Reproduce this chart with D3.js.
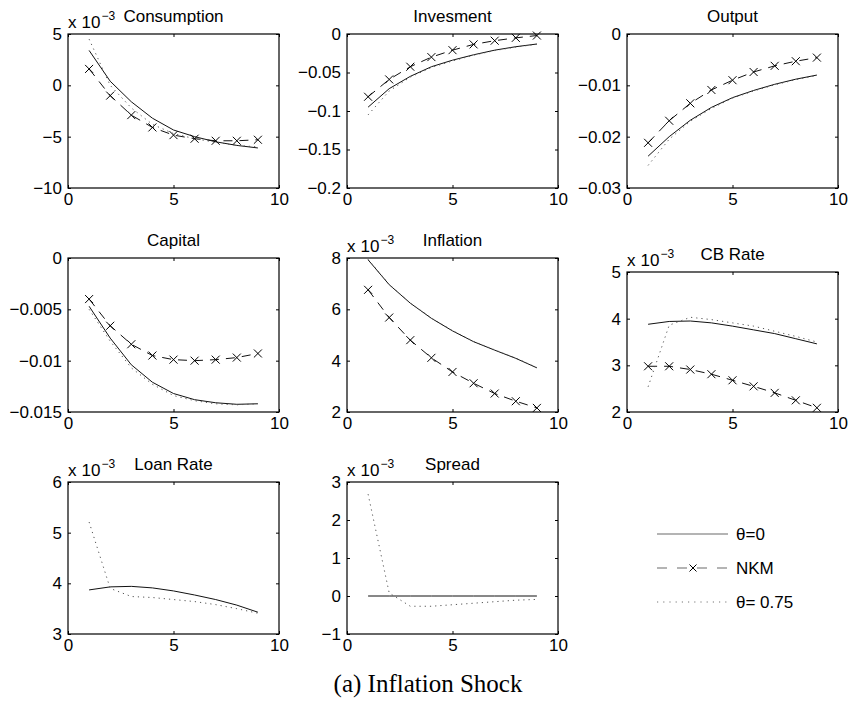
<!DOCTYPE html>
<html>
<head>
<meta charset="utf-8">
<script src="https://cdn.jsdelivr.net/npm/d3@7/dist/d3.min.js"></script>
<style>
  html, body { margin: 0; padding: 0; background: #fff; }
  svg { display: block; }
  text { font-family: "Liberation Sans", Arial, Helvetica, sans-serif; fill: #000; }
</style>
</head>
<body>
<svg id="chart" width="850" height="704"></svg>
<script>
// ---------------- DATA ----------------
const periods = [1, 2, 3, 4, 5, 6, 7, 8, 9];
const xTicks = [0, 5, 10];
const seriesNames = ["θ=0", "NKM", "θ= 0.75"];
const caption = "(a) Inflation Shock";

// Consumption (x 10^-3)
const consumptionTheta0 = [3.4, 0.4, -1.6, -3.2, -4.35, -5.0, -5.5, -5.85, -6.1];
const consumptionNKM    = [1.6, -1.0, -2.9, -4.1, -4.85, -5.2, -5.4, -5.4, -5.3];
const consumptionTheta75 = [4.5, 0.0, -2.2, -3.8, -4.7, -5.2, -5.55, -5.85, -6.0];
const consumptionTicks = [5, 0, -5, -10];

// Investment
const investTheta0 = [-0.095, -0.071, -0.055, -0.0425, -0.034, -0.027, -0.021, -0.0165, -0.013];
const investNKM    = [-0.0815, -0.059, -0.0425, -0.030, -0.021, -0.0135, -0.0087, -0.005, -0.002];
const investTheta75 = [-0.105, -0.074, -0.056, -0.0435, -0.035, -0.0275, -0.0215, -0.017, -0.0133];
const investTicks = [0, -0.05, -0.1, -0.15, -0.2];

// Output
const outputTheta0 = [-0.0238, -0.0200, -0.0168, -0.0143, -0.0124, -0.0110, -0.0098, -0.0088, -0.0080];
const outputNKM    = [-0.0212, -0.0169, -0.0135, -0.0109, -0.0090, -0.0074, -0.0062, -0.0053, -0.0046];
const outputTheta75 = [-0.0256, -0.0205, -0.0170, -0.0145, -0.0125, -0.0111, -0.0099, -0.0089, -0.0081];
const outputTicks = [0, -0.01, -0.02, -0.03];

// Capital
const capitalTheta0 = [-0.0047, -0.0078, -0.0104, -0.0121, -0.0132, -0.0138, -0.0141, -0.01425, -0.0142];
const capitalNKM    = [-0.0040, -0.0066, -0.0084, -0.0095, -0.0099, -0.0100, -0.0099, -0.0097, -0.0093];
const capitalTheta75 = [-0.0050, -0.0081, -0.0107, -0.0123, -0.0134, -0.0139, -0.0142, -0.0143, -0.0142];
const capitalTicks = [0, -0.005, -0.01, -0.015];

// Inflation (x 10^-3)
const inflationTheta0 = [7.93, 6.96, 6.24, 5.65, 5.16, 4.74, 4.41, 4.09, 3.72];
const inflationNKM    = [6.76, 5.68, 4.80, 4.11, 3.56, 3.12, 2.72, 2.42, 2.16];
const inflationTheta75 = [7.95, 6.97, 6.25, 5.66, 5.17, 4.75, 4.42, 4.10, 3.73];
const inflationTicks = [8, 6, 4, 2];

// CB Rate (x 10^-3)
const cbTheta0 = [3.88, 3.94, 3.95, 3.91, 3.84, 3.76, 3.68, 3.57, 3.46];
const cbNKM    = [2.98, 2.98, 2.91, 2.81, 2.68, 2.55, 2.41, 2.25, 2.09];
const cbTheta75 = [2.54, 3.86, 4.03, 3.98, 3.91, 3.84, 3.73, 3.62, 3.50];
const cbTicks = [5, 4, 3, 2];

// Loan Rate (x 10^-3)
const loanTheta0 = [3.87, 3.93, 3.94, 3.91, 3.85, 3.77, 3.68, 3.57, 3.43];
const loanTheta75 = [5.21, 3.90, 3.74, 3.72, 3.68, 3.64, 3.58, 3.50, 3.41];
const loanTicks = [6, 5, 4, 3];

// Spread (x 10^-3)
const spreadTheta0 = [0, 0, 0, 0, 0, 0, 0, 0, 0];
const spreadTheta75 = [2.68, 0.08, -0.27, -0.27, -0.23, -0.19, -0.15, -0.11, -0.09];
const spreadTicks = [3, 2, 1, 0, -1];

// ---------------- PANELS (built from the arrays) ----------------
const panels = [
  { title: "Consumption", exp: true,  ticks: consumptionTicks, s: [consumptionTheta0, consumptionNKM, consumptionTheta75] },
  { title: "Invesment",   exp: false, ticks: investTicks,      s: [investTheta0, investNKM, investTheta75] },
  { title: "Output",      exp: false, ticks: outputTicks,      s: [outputTheta0, outputNKM, outputTheta75] },
  { title: "Capital",     exp: false, ticks: capitalTicks,     s: [capitalTheta0, capitalNKM, capitalTheta75] },
  { title: "Inflation",   exp: true,  ticks: inflationTicks,   s: [inflationTheta0, inflationNKM, inflationTheta75] },
  { title: "CB Rate",     exp: true,  ticks: cbTicks,          s: [cbTheta0, cbNKM, cbTheta75] },
  { title: "Loan Rate",   exp: true,  ticks: loanTicks,        s: [loanTheta0, null, loanTheta75] },
  { title: "Spread",      exp: true,  ticks: spreadTicks,      s: [spreadTheta0, null, spreadTheta75] }
];

// ---------------- LAYOUT ----------------
const colLeft = [68, 347, 627];
const boxW = 211;
const rowTop = [34, 258, 482];
const rowBottom = [188, 412, 634];
const FS = 17;

const svg = d3.select("#chart");
const fmt = v => String(+v.toPrecision(6)).replace("-", "\u2212");

const styles = [
  { dash: null,    color: "#111", width: 1 },
  { dash: "9,7",   color: "#111", width: 1 },
  { dash: "1.2,4", color: "#555", width: 1 }
];

function xMarker(g, cx, cy, r) {
  g.append("path")
    .attr("d", `M${cx - r},${cy - r}L${cx + r},${cy + r}M${cx - r},${cy + r}L${cx + r},${cy - r}`)
    .attr("stroke", "#000").attr("stroke-width", 1).attr("fill", "none");
}

panels.forEach((p, i) => {
  const col = i % 3, row = Math.floor(i / 3);
  const left = colLeft[col], right = left + boxW;
  const top = (p.title === "CB Rate") ? 272 : rowTop[row];
  const bottom = rowBottom[row];
  const yDom = d3.extent(p.ticks);

  const x = d3.scaleLinear().domain([0, 10]).range([left, right]);
  const y = d3.scaleLinear().domain(yDom).range([bottom, top]);

  const g = svg.append("g");

  // lines
  p.s.forEach((vals, k) => {
    if (!vals) return;
    const line = d3.line().x((d, j) => x(periods[j])).y(d => y(d));
    const st = styles[k];
    g.append("path").datum(vals)
      .attr("d", line)
      .attr("fill", "none")
      .attr("stroke", st.color)
      .attr("stroke-width", st.width)
      .attr("stroke-dasharray", st.dash);
    if (k === 1) {
      vals.forEach((d, j) => xMarker(g, x(periods[j]), y(d), 4));
    }
  });

  // axes (ticks inside)
  const ax = g.append("g").attr("transform", `translate(0,${bottom})`)
    .call(d3.axisBottom(x).tickValues(xTicks).tickSizeInner(-3).tickSizeOuter(0).tickPadding(5).tickFormat(fmt));
  const ay = g.append("g").attr("transform", `translate(${left},0)`)
    .call(d3.axisLeft(y).tickValues(p.ticks).tickSizeInner(-3).tickSizeOuter(0).tickPadding(6).tickFormat(fmt));
  const at = g.append("g").attr("transform", `translate(0,${top})`)
    .call(d3.axisTop(x).tickValues(xTicks).tickSizeInner(-3).tickSizeOuter(0).tickFormat(""));
  const ar = g.append("g").attr("transform", `translate(${right},0)`)
    .call(d3.axisRight(y).tickValues(p.ticks).tickSizeInner(-3).tickSizeOuter(0).tickFormat(""));
  [ax, ay, at, ar].forEach(a => {
    a.select(".domain").remove();
    a.selectAll("line").attr("stroke", "#000");
    a.selectAll("text").attr("font-size", FS).attr("font-family", "Liberation Sans, Arial, sans-serif").attr("fill", "#000");
  });

  // box
  g.append("rect")
    .attr("x", left).attr("y", top)
    .attr("width", right - left).attr("height", bottom - top)
    .attr("fill", "none").attr("stroke", "#000").attr("stroke-width", 1.2);

  // title
  g.append("text")
    .attr("x", (left + right) / 2).attr("y", top - 12)
    .attr("text-anchor", "middle").attr("font-size", FS)
    .text(p.title);

  // exponent label
  if (p.exp) {
    const t = g.append("text").attr("x", left).attr("y", top - 6).attr("font-size", FS);
    t.append("tspan").text("x");
    t.append("tspan").attr("dx", 5).text("10");
    t.append("tspan").attr("dx", 1).attr("dy", -8).attr("font-size", 12).text("\u22123");
  }
});

// ---------------- LEGEND ----------------
const legY = d3.scalePoint().domain(seriesNames).range([534, 602]);
const legX0 = 657, legX1 = 728;
const leg = svg.append("g");
seriesNames.forEach((name, k) => {
  const yy = legY(name);
  leg.append("line")
    .attr("x1", legX0).attr("x2", legX1).attr("y1", yy).attr("y2", yy)
    .attr("stroke", k === 2 ? "#777" : "#6a6a6a").attr("stroke-width", 1.2)
    .attr("stroke-dasharray", k === 1 ? "10,10" : (k === 2 ? "1.2,5" : null));
  if (k === 1) xMarker(leg, (legX0 + legX1) / 2 + 0.5, yy, 3.5);
  leg.append("text")
    .attr("x", 736).attr("y", yy).attr("dy", "0.35em")
    .attr("font-size", FS)
    .text(name);
});

// ---------------- CAPTION ----------------
svg.append("text")
  .attr("x", 428).attr("y", 692)
  .attr("text-anchor", "middle")
  .style("font-family", "'Liberation Serif', 'Times New Roman', serif")
  .attr("font-size", 25)
  .text(caption);
</script>
</body>
</html>
